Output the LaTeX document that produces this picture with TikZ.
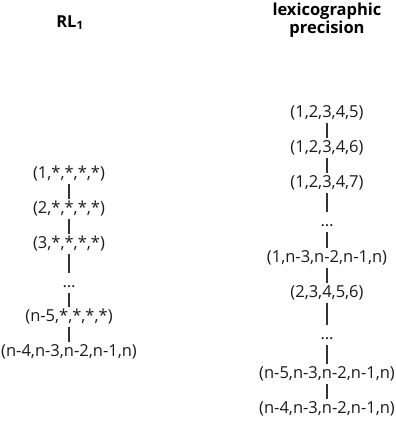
\documentclass[tikz,border=0pt]{standalone}
\usepackage{fontspec}
\setmainfont{Open Sans}
\begin{document}
\begin{tikzpicture}[x=1pt,y=-1pt,
  lbl/.style={font=\fontsize{16.5}{18}\selectfont, anchor=base, inner sep=0pt, text height=11pt, text depth=3pt, text=black!90},
  ttl/.style={font=\fontsize{16.5}{18.5}\selectfont\bfseries, align=center, inner sep=0pt},
  link/.style={draw=black!80, line width=1.2pt, shorten <=2.5pt, shorten >=2.5pt}]
\useasboundingbox (0,0) rectangle (396,424);
% titles
\node[ttl, anchor=base] (t1) at (70,27) {RL\textsubscript{1}};
\node[ttl] (t2) at (327,20) {lexicographic\\precision};
% left column
\node[lbl] (a1) at (69,178) {(1,*,*,*,*)};
\node[lbl] (a2) at (69,213) {(2,*,*,*,*)};
\node[lbl] (a3) at (69,248) {(3,*,*,*,*)};
\node[lbl] (a4) at (69,287) {\dots};
\node[lbl] (a5) at (69,321) {(n-5,*,*,*,*)};
\node[lbl] (a6) at (69,356) {(n-4,n-3,n-2,n-1,n)};
\foreach \u/\v in {a1/a2,a2/a3,a3/a4,a4/a5,a5/a6} \draw[link] (\u.south) -- (\v.north);
% right column
\node[lbl] (b1) at (327,117) {(1,2,3,4,5)};
\node[lbl] (b2) at (327,152) {(1,2,3,4,6)};
\node[lbl] (b3) at (327,187) {(1,2,3,4,7)};
\node[lbl] (b4) at (327,226) {\dots};
\node[lbl] (b5) at (327,262) {(1,n-3,n-2,n-1,n)};
\node[lbl] (b6) at (327,297) {(2,3,4,5,6)};
\node[lbl] (b7) at (327,339) {\dots};
\node[lbl] (b8) at (327,378) {(n-5,n-3,n-2,n-1,n)};
\node[lbl] (b9) at (327,413) {(n-4,n-3,n-2,n-1,n)};
\foreach \u/\v in {b1/b2,b2/b3,b3/b4,b4/b5,b5/b6,b6/b7,b7/b8,b8/b9} \draw[link] (\u.south) -- (\v.north);
\end{tikzpicture}
\end{document}
